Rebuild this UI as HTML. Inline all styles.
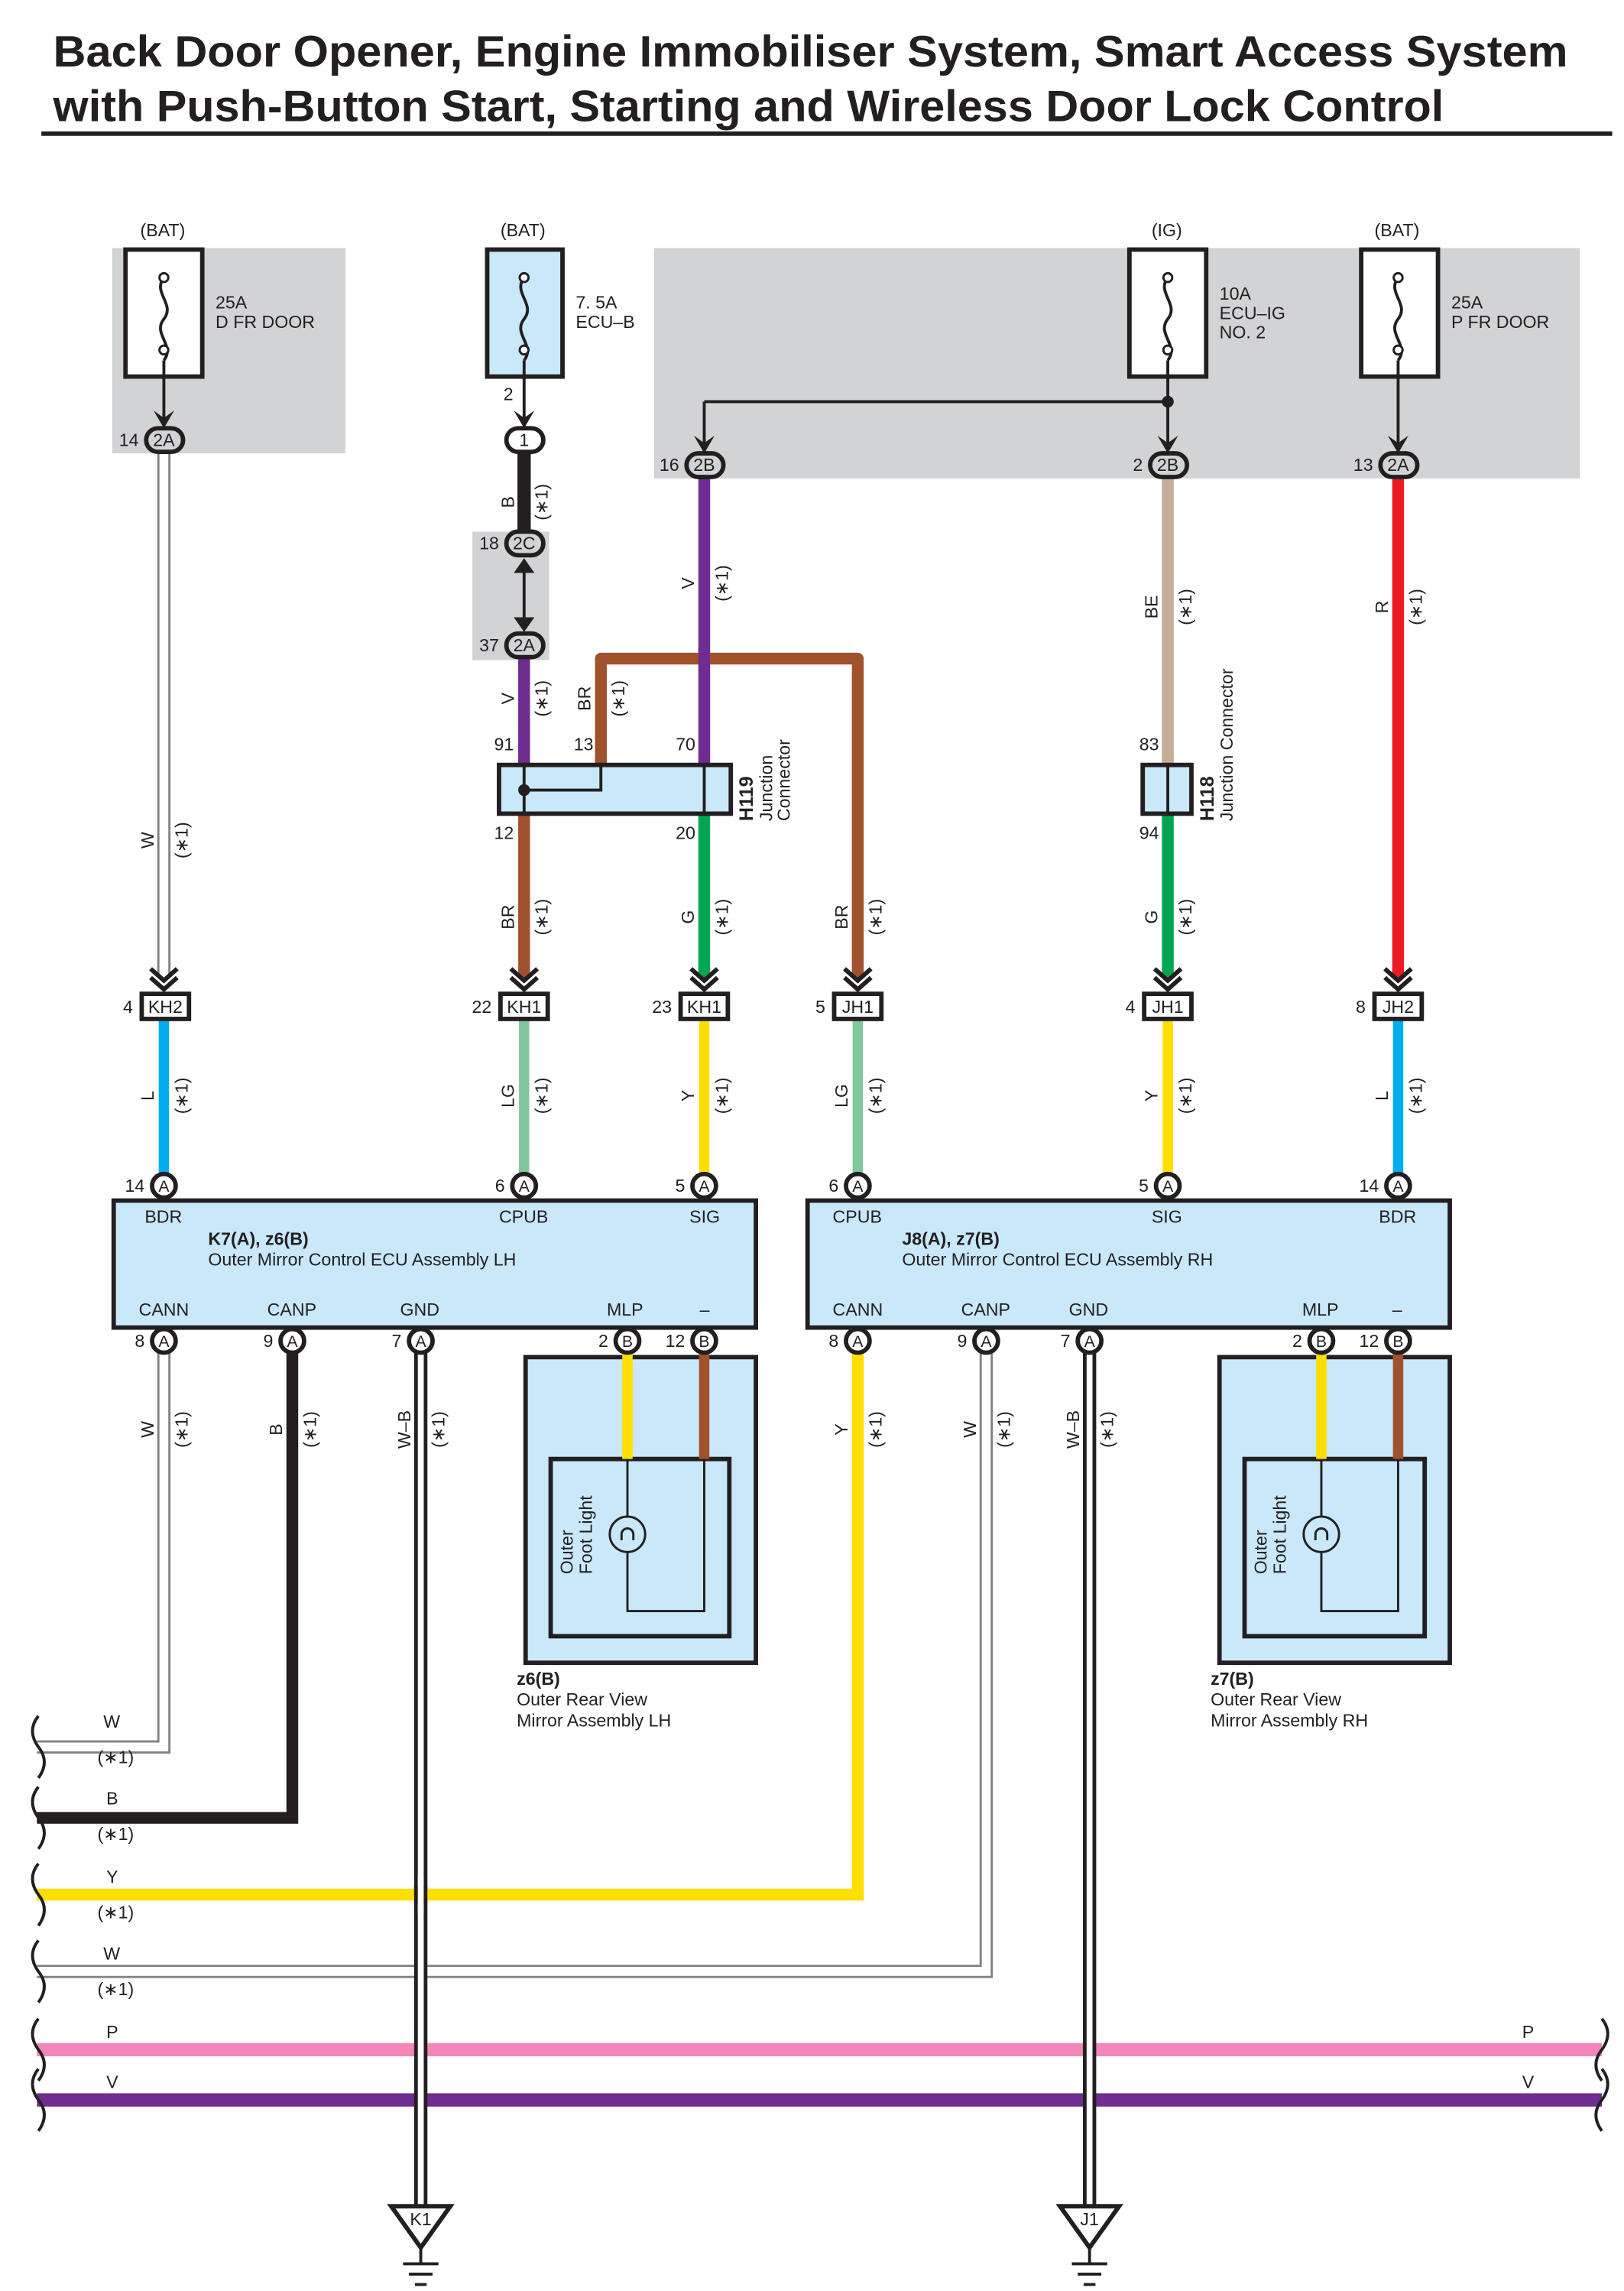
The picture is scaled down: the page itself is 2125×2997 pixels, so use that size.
<!DOCTYPE html>
<html><head><meta charset="utf-8"><style>
html,body{margin:0;padding:0;background:#fff}
svg{display:block}
text{font-family:"Liberation Sans",sans-serif;fill:#231f20}
.s{font-size:12px}
.t{font-size:29.8px;font-weight:bold}
</style></head><body>
<svg width="2125" height="2997" viewBox="0 0 1100 1551.4" preserveAspectRatio="none" xmlns="http://www.w3.org/2000/svg">
<text class="t" x="36" y="45" textLength="1026" lengthAdjust="spacingAndGlyphs">Back Door Opener, Engine Immobiliser System, Smart Access System</text>
<text class="t" x="36" y="82" textLength="942" lengthAdjust="spacingAndGlyphs">with Push-Button Start, Starting and Wireless Door Lock Control</text>
<rect x="28" y="89" width="1064" height="3" fill="#231f20"/>

<!-- gray areas -->
<rect x="76" y="168" width="158" height="139" fill="#d1d3d4"/>
<rect x="320" y="360" width="52" height="87" fill="#d1d3d4"/>
<rect x="443" y="168" width="627" height="156" fill="#d1d3d4"/>

<!-- fuses -->
<g stroke="#231f20" stroke-width="3">
<rect x="85" y="169" width="52" height="86" fill="#fff"/>
<rect x="330" y="169" width="51" height="86" fill="#c9e8f9"/>
<rect x="765" y="169" width="52" height="86" fill="#fff"/>
<rect x="922" y="169" width="52" height="86" fill="#fff"/>
</g>
<g fill="none" stroke="#231f20" stroke-width="2">
<path d="M111 188 c-8 10 8 18 0 28 c-8 10 8 18 0 28"/>
<path d="M355 188 c-8 10 8 18 0 28 c-8 10 8 18 0 28"/>
<path d="M791 188 c-8 10 8 18 0 28 c-8 10 8 18 0 28"/>
<path d="M947 188 c-8 10 8 18 0 28 c-8 10 8 18 0 28"/>
<path d="M111 244 V290 M355 244 V290 M791 244 V307 M947 244 V307 M477 272 H791 M477 272 V307"/>
</g>
<g fill="#fff" stroke="#231f20" stroke-width="1.5">
<circle cx="111" cy="188" r="3"/><circle cx="111" cy="237" r="3"/>
<circle cx="355" cy="188" r="3"/><circle cx="355" cy="237" r="3"/>
<circle cx="791" cy="188" r="3"/><circle cx="791" cy="237" r="3"/>
<circle cx="947" cy="188" r="3"/><circle cx="947" cy="237" r="3"/>
</g>
<circle cx="791" cy="272" r="4" fill="#231f20"/>
<g class="s">
<text x="95" y="160">(BAT)</text><text x="339" y="160">(BAT)</text><text x="780" y="160">(IG)</text><text x="931" y="160">(BAT)</text>
<text x="146" y="209">25A</text><text x="146" y="222">D FR DOOR</text>
<text x="390" y="209">7. 5A</text><text x="390" y="222">ECU–B</text>
<text x="826" y="203">10A</text><text x="826" y="216">ECU–IG</text><text x="826" y="229">NO. 2</text>
<text x="983" y="209">25A</text><text x="983" y="222">P FR DOOR</text>
<text x="341" y="271">2</text>
</g>

<!-- wires upper -->
<g fill="none" stroke-linejoin="round">
<path d="M111 305 V662" stroke="#808285" stroke-width="9"/><path d="M111 305 V662" stroke="#fff" stroke-width="6"/>
<path d="M355 305 V362" stroke="#231f20" stroke-width="9"/>
<path d="M355 445 V517" stroke="#6f2c91" stroke-width="8"/>
<path d="M407 517 V446 H581 V662" stroke="#a0522d" stroke-width="8"/>
<path d="M477 322 V517" stroke="#6f2c91" stroke-width="8"/>
<path d="M355 551 V662" stroke="#a0522d" stroke-width="8"/>
<path d="M477 551 V662" stroke="#00a651" stroke-width="8"/>
<path d="M791 322 V517" stroke="#c4ae98" stroke-width="8"/>
<path d="M791 551 V662" stroke="#00a651" stroke-width="8"/>
<path d="M947 322 V662" stroke="#ed1c24" stroke-width="8"/>
<path d="M355 380 V425" stroke="#231f20" stroke-width="2"/>
</g>
<path d="M348 388 L355 378 L362 388 Z M348 418 L355 428 L362 418 Z" fill="#231f20"/>
<g fill="#231f20">
<path d="M104 278 L111 290 L118 278 L111 283 Z"/>
<path d="M348 278 L355 290 L362 278 L355 283 Z"/>
<path d="M470 295 L477 307 L484 295 L477 300 Z"/>
<path d="M784 295 L791 307 L798 295 L791 300 Z"/>
<path d="M940 295 L947 307 L954 295 L947 300 Z"/>
</g>
<g fill="#fff" stroke="#231f20" stroke-width="3">
<rect x="99" y="290" width="25" height="16" rx="8" fill="#d1d3d4"/>
<rect x="343" y="290" width="25" height="16" rx="8"/>
<rect x="465" y="307" width="25" height="16" rx="8" fill="#d1d3d4"/>
<rect x="779" y="307" width="25" height="16" rx="8" fill="#d1d3d4"/>
<rect x="935" y="307" width="25" height="16" rx="8" fill="#d1d3d4"/>
<rect x="343" y="360" width="25" height="16" rx="8" fill="#d1d3d4"/>
<rect x="343" y="429" width="25" height="16" rx="8" fill="#d1d3d4"/>
</g>
<g class="s" text-anchor="middle">
<text x="111" y="302">2A</text><text x="355" y="302">1</text><text x="477" y="319">2B</text><text x="791" y="319">2B</text><text x="947" y="319">2A</text><text x="355" y="372">2C</text><text x="355" y="441">2A</text>
</g>
<g class="s" text-anchor="end">
<text x="94" y="302">14</text><text x="460" y="319">16</text><text x="774" y="319">2</text><text x="930" y="319">13</text><text x="338" y="372">18</text><text x="338" y="441">37</text>
<text x="348" y="508">91</text><text x="402" y="508">13</text><text x="471" y="508">70</text><text x="348" y="568">12</text><text x="471" y="568">20</text>
<text x="785" y="508">83</text><text x="785" y="568">94</text>
</g>

<!-- H119 -->
<rect x="338" y="518" width="157" height="33" fill="#c9e8f9" stroke="#231f20" stroke-width="3"/>
<path d="M355 518 V551 M355 535 H407 V518 M477 518 V551" stroke="#231f20" stroke-width="2" fill="none"/>
<circle cx="355" cy="535" r="4" fill="#231f20"/>
<g transform="translate(510,556) rotate(-90)"><text x="0" y="0" style="font-size:13px;font-weight:bold">H119</text><text x="0" y="13" class="s">Junction</text><text x="0" y="25" class="s">Connector</text></g>
<!-- H118 -->
<rect x="774" y="518" width="33" height="33" fill="#c9e8f9" stroke="#231f20" stroke-width="3"/>
<path d="M791 518 V551" stroke="#231f20" stroke-width="2"/>
<g transform="translate(822,556) rotate(-90)"><text x="0" y="0" style="font-size:13px;font-weight:bold">H118</text><text x="0" y="13" class="s">Junction Connector</text></g>

<!-- chevrons and connector boxes -->
<g fill="none" stroke="#231f20" stroke-width="3">
<path d="M102 656 L111 664 L120 656 M102 662 L111 670 L120 662"/>
<path d="M346 656 L355 664 L364 656 M346 662 L355 670 L364 662"/>
<path d="M468 656 L477 664 L486 656 M468 662 L477 670 L486 662"/>
<path d="M572 656 L581 664 L590 656 M572 662 L581 670 L590 662"/>
<path d="M782 656 L791 664 L800 656 M782 662 L791 670 L800 662"/>
<path d="M938 656 L947 664 L956 656 M938 662 L947 670 L956 662"/>
</g>
<g fill="none" stroke-width="7">
<path d="M111 690 V796" stroke="#00aeef"/>
<path d="M355 690 V796" stroke="#80c89c"/>
<path d="M477 690 V796" stroke="#ffde00"/>
<path d="M581 690 V796" stroke="#80c89c"/>
<path d="M791 690 V796" stroke="#ffde00"/>
<path d="M947 690 V796" stroke="#00aeef"/>
</g>
<g fill="#fff" stroke="#231f20" stroke-width="3">
<rect x="96" y="673" width="32" height="17"/><rect x="339" y="673" width="32" height="17"/><rect x="461" y="673" width="32" height="17"/>
<rect x="565" y="673" width="32" height="17"/><rect x="775" y="673" width="32" height="17"/><rect x="931" y="673" width="32" height="17"/>
</g>
<g class="s" text-anchor="middle">
<text x="112" y="686">KH2</text><text x="355" y="686">KH1</text><text x="477" y="686">KH1</text><text x="581" y="686">JH1</text><text x="791" y="686">JH1</text><text x="947" y="686">JH2</text>
</g>
<g class="s" text-anchor="end">
<text x="90" y="686">4</text><text x="333" y="686">22</text><text x="455" y="686">23</text><text x="559" y="686">5</text><text x="769" y="686">4</text><text x="925" y="686">8</text>
</g>

<!-- wire labels (rotated) -->
<g class="s">
<g transform="translate(348,340) rotate(-90)"><text text-anchor="middle">B</text></g><g transform="translate(371,340) rotate(-90)"><text text-anchor="middle">(∗1)</text></g>
<g transform="translate(470,395) rotate(-90)"><text text-anchor="middle">V</text></g><g transform="translate(493,395) rotate(-90)"><text text-anchor="middle">(∗1)</text></g>
<g transform="translate(348,473) rotate(-90)"><text text-anchor="middle">V</text></g><g transform="translate(371,473) rotate(-90)"><text text-anchor="middle">(∗1)</text></g>
<g transform="translate(400,473) rotate(-90)"><text text-anchor="middle">BR</text></g><g transform="translate(423,473) rotate(-90)"><text text-anchor="middle">(∗1)</text></g>
<g transform="translate(784,411) rotate(-90)"><text text-anchor="middle">BE</text></g><g transform="translate(807,411) rotate(-90)"><text text-anchor="middle">(∗1)</text></g>
<g transform="translate(940,411) rotate(-90)"><text text-anchor="middle">R</text></g><g transform="translate(963,411) rotate(-90)"><text text-anchor="middle">(∗1)</text></g>
<g transform="translate(104,569) rotate(-90)"><text text-anchor="middle">W</text></g><g transform="translate(127,569) rotate(-90)"><text text-anchor="middle">(∗1)</text></g>
<g transform="translate(348,621) rotate(-90)"><text text-anchor="middle">BR</text></g><g transform="translate(371,621) rotate(-90)"><text text-anchor="middle">(∗1)</text></g>
<g transform="translate(470,621) rotate(-90)"><text text-anchor="middle">G</text></g><g transform="translate(493,621) rotate(-90)"><text text-anchor="middle">(∗1)</text></g>
<g transform="translate(574,621) rotate(-90)"><text text-anchor="middle">BR</text></g><g transform="translate(597,621) rotate(-90)"><text text-anchor="middle">(∗1)</text></g>
<g transform="translate(784,621) rotate(-90)"><text text-anchor="middle">G</text></g><g transform="translate(807,621) rotate(-90)"><text text-anchor="middle">(∗1)</text></g>
<g transform="translate(104,742) rotate(-90)"><text text-anchor="middle">L</text></g><g transform="translate(127,742) rotate(-90)"><text text-anchor="middle">(∗1)</text></g>
<g transform="translate(348,742) rotate(-90)"><text text-anchor="middle">LG</text></g><g transform="translate(371,742) rotate(-90)"><text text-anchor="middle">(∗1)</text></g>
<g transform="translate(470,742) rotate(-90)"><text text-anchor="middle">Y</text></g><g transform="translate(493,742) rotate(-90)"><text text-anchor="middle">(∗1)</text></g>
<g transform="translate(574,742) rotate(-90)"><text text-anchor="middle">LG</text></g><g transform="translate(597,742) rotate(-90)"><text text-anchor="middle">(∗1)</text></g>
<g transform="translate(784,742) rotate(-90)"><text text-anchor="middle">Y</text></g><g transform="translate(807,742) rotate(-90)"><text text-anchor="middle">(∗1)</text></g>
<g transform="translate(940,742) rotate(-90)"><text text-anchor="middle">L</text></g><g transform="translate(963,742) rotate(-90)"><text text-anchor="middle">(∗1)</text></g>
<g transform="translate(104,968) rotate(-90)"><text text-anchor="middle">W</text></g><g transform="translate(127,968) rotate(-90)"><text text-anchor="middle">(∗1)</text></g>
<g transform="translate(191,968) rotate(-90)"><text text-anchor="middle">B</text></g><g transform="translate(214,968) rotate(-90)"><text text-anchor="middle">(∗1)</text></g>
<g transform="translate(278,968) rotate(-90)"><text text-anchor="middle">W–B</text></g><g transform="translate(301,968) rotate(-90)"><text text-anchor="middle">(∗1)</text></g>
<g transform="translate(574,968) rotate(-90)"><text text-anchor="middle">Y</text></g><g transform="translate(597,968) rotate(-90)"><text text-anchor="middle">(∗1)</text></g>
<g transform="translate(661,968) rotate(-90)"><text text-anchor="middle">W</text></g><g transform="translate(684,968) rotate(-90)"><text text-anchor="middle">(∗1)</text></g>
<g transform="translate(731,968) rotate(-90)"><text text-anchor="middle">W–B</text></g><g transform="translate(754,968) rotate(-90)"><text text-anchor="middle">(∗1)</text></g>
<g transform="translate(418,952) rotate(-90)"><text text-anchor="middle">Y</text></g><g transform="translate(470,952) rotate(-90)"><text text-anchor="middle">BR</text></g>
<g transform="translate(888,952) rotate(-90)"><text text-anchor="middle">Y</text></g><g transform="translate(940,952) rotate(-90)"><text text-anchor="middle">BR</text></g>
</g>

<!-- ECU boxes -->
<rect x="77" y="813" width="435" height="86" fill="#c9e8f9" stroke="#231f20" stroke-width="3"/>
<rect x="547" y="813" width="435" height="86" fill="#c9e8f9" stroke="#231f20" stroke-width="3"/>
<g class="s">
<text x="98" y="828">BDR</text><text x="338" y="828">CPUB</text><text x="467" y="828">SIG</text>
<text x="141" y="843" style="font-weight:bold">K7(A), z6(B)</text><text x="141" y="857">Outer Mirror Control ECU Assembly LH</text>
<text x="94" y="891">CANN</text><text x="181" y="891">CANP</text><text x="271" y="891">GND</text><text x="411" y="891">MLP</text><text x="474" y="891">–</text>
<text x="564" y="828">CPUB</text><text x="780" y="828">SIG</text><text x="934" y="828">BDR</text>
<text x="611" y="843" style="font-weight:bold">J8(A), z7(B)</text><text x="611" y="857">Outer Mirror Control ECU Assembly RH</text>
<text x="564" y="891">CANN</text><text x="651" y="891">CANP</text><text x="724" y="891">GND</text><text x="882" y="891">MLP</text><text x="943" y="891">–</text>
</g>

<!-- mirror assemblies -->
<rect x="356" y="919" width="156" height="207" fill="#c9e8f9" stroke="#231f20" stroke-width="3"/>
<rect x="373" y="988" width="121" height="120" fill="#c9e8f9" stroke="#231f20" stroke-width="3"/>
<rect x="826" y="919" width="156" height="207" fill="#c9e8f9" stroke="#231f20" stroke-width="3"/>
<rect x="843" y="988" width="122" height="120" fill="#c9e8f9" stroke="#231f20" stroke-width="3"/>
<g fill="none" stroke-width="7">
<path d="M425 916 V988" stroke="#ffde00"/><path d="M477 916 V988" stroke="#a0522d"/>
<path d="M895 916 V988" stroke="#ffde00"/><path d="M947 916 V988" stroke="#a0522d"/>
</g>
<g fill="none" stroke="#231f20" stroke-width="1.5">
<path d="M425 988 V1027 M425 1051 V1091 H477 V988"/>
<circle cx="425" cy="1039" r="12"/><path d="M421 1039 a4 4 0 1 1 8 0 M421 1039 V1043 M429 1039 V1043"/>
<path d="M895 988 V1027 M895 1051 V1091 H947 V988"/>
<circle cx="895" cy="1039" r="12"/><path d="M891 1039 a4 4 0 1 1 8 0 M891 1039 V1043 M899 1039 V1043"/>
</g>
<g class="s">
<g transform="translate(388,1066) rotate(-90)"><text>Outer</text><text y="13">Foot Light</text></g>
<g transform="translate(858,1066) rotate(-90)"><text>Outer</text><text y="13">Foot Light</text></g>
<text x="350" y="1141" style="font-weight:bold">z6(B)</text><text x="350" y="1155">Outer Rear View</text><text x="350" y="1169">Mirror Assembly LH</text>
<text x="820" y="1141" style="font-weight:bold">z7(B)</text><text x="820" y="1155">Outer Rear View</text><text x="820" y="1169">Mirror Assembly RH</text>
</g>

<!-- lower wires -->
<g fill="none" stroke-linejoin="miter">
<path d="M111 916 V1183 H25" stroke="#808285" stroke-width="9"/><path d="M111 916 V1183 H25" stroke="#fff" stroke-width="6"/>
<path d="M198 916 V1231 H25" stroke="#231f20" stroke-width="8"/>
<path d="M668 916 V1335 H25" stroke="#808285" stroke-width="9"/><path d="M668 916 V1335 H25" stroke="#fff" stroke-width="6"/>
<path d="M25 1388 H1085" stroke="#f187b8" stroke-width="9"/>
<path d="M25 1422 H1085" stroke="#6f2c91" stroke-width="9"/>
<path d="M285 916 V1493" stroke="#231f20" stroke-width="9"/><path d="M285 916 V1493" stroke="#fff" stroke-width="4"/>
<path d="M738 916 V1493" stroke="#231f20" stroke-width="9"/><path d="M738 916 V1493" stroke="#fff" stroke-width="4"/>
<path d="M581 916 V1283 H25" stroke="#ffde00" stroke-width="8"/>
</g>
<path d="M285 1277 V1289" stroke="#231f20" stroke-width="9"/><path d="M285 1270 V1296" stroke="#fff" stroke-width="4"/>

<g fill="none" stroke="#231f20" stroke-width="2">
<path d="M26 1162 q-8 10 0 21 q8 10 0 21"/>
<path d="M26 1210 q-8 10 0 21 q8 10 0 21"/>
<path d="M26 1262 q-8 10 0 21 q8 10 0 21"/>
<path d="M26 1314 q-8 10 0 21 q8 10 0 21"/>
<path d="M26 1367 q-8 10 0 21 q8 10 0 21"/>
<path d="M26 1401 q-8 10 0 21 q8 10 0 21"/>
<path d="M1085 1367 q8 10 0 21 q-8 10 0 21"/>
<path d="M1085 1401 q8 10 0 21 q-8 10 0 21"/>
</g>
<g class="s">
<text x="70" y="1170">W</text><text x="66" y="1194">(∗1)</text>
<text x="72" y="1222">B</text><text x="66" y="1246">(∗1)</text>
<text x="72" y="1275">Y</text><text x="66" y="1299">(∗1)</text>
<text x="70" y="1327">W</text><text x="66" y="1351">(∗1)</text>
<text x="72" y="1380">P</text><text x="72" y="1414">V</text>
<text x="1031" y="1380">P</text><text x="1031" y="1414">V</text>
</g>

<!-- grounds -->
<g fill="#fff" stroke="#231f20" stroke-width="3">
<path d="M265 1494 H305 L285 1522 Z"/>
<path d="M718 1494 H758 L738 1522 Z"/>
</g>
<g stroke="#231f20" stroke-width="2">
<path d="M285 1522 V1533 M273 1533 H297 M277 1540 H293 M281 1547 H289"/>
<path d="M738 1522 V1533 M726 1533 H750 M730 1540 H746 M734 1547 H742"/>
</g>
<text class="s" x="285" y="1507" text-anchor="middle">K1</text>
<text class="s" x="738" y="1507" text-anchor="middle">J1</text>

<!-- pins -->
<g fill="#fff" stroke="#231f20" stroke-width="3">
<circle cx="111" cy="803" r="8"/><circle cx="355" cy="803" r="8"/><circle cx="477" cy="803" r="8"/>
<circle cx="581" cy="803" r="8"/><circle cx="791" cy="803" r="8"/><circle cx="947" cy="803" r="8"/>
<circle cx="111" cy="908" r="8"/><circle cx="198" cy="908" r="8"/><circle cx="285" cy="908" r="8"/><circle cx="425" cy="908" r="8"/><circle cx="477" cy="908" r="8"/>
<circle cx="581" cy="908" r="8"/><circle cx="668" cy="908" r="8"/><circle cx="738" cy="908" r="8"/><circle cx="895" cy="908" r="8"/><circle cx="947" cy="908" r="8"/>
</g>
<g class="s" text-anchor="middle" style="font-size:11px">
<text x="111" y="807">A</text><text x="355" y="807">A</text><text x="477" y="807">A</text><text x="581" y="807">A</text><text x="791" y="807">A</text><text x="947" y="807">A</text>
<text x="111" y="912">A</text><text x="198" y="912">A</text><text x="285" y="912">A</text><text x="425" y="912">B</text><text x="477" y="912">B</text>
<text x="581" y="912">A</text><text x="668" y="912">A</text><text x="738" y="912">A</text><text x="895" y="912">B</text><text x="947" y="912">B</text>
</g>
<g class="s" text-anchor="end">
<text x="98" y="807">14</text><text x="342" y="807">6</text><text x="464" y="807">5</text><text x="568" y="807">6</text><text x="778" y="807">5</text><text x="934" y="807">14</text>
<text x="98" y="912">8</text><text x="185" y="912">9</text><text x="272" y="912">7</text><text x="412" y="912">2</text><text x="464" y="912">12</text>
<text x="568" y="912">8</text><text x="655" y="912">9</text><text x="725" y="912">7</text><text x="882" y="912">2</text><text x="934" y="912">12</text>
</g>
</svg>
</body></html>
